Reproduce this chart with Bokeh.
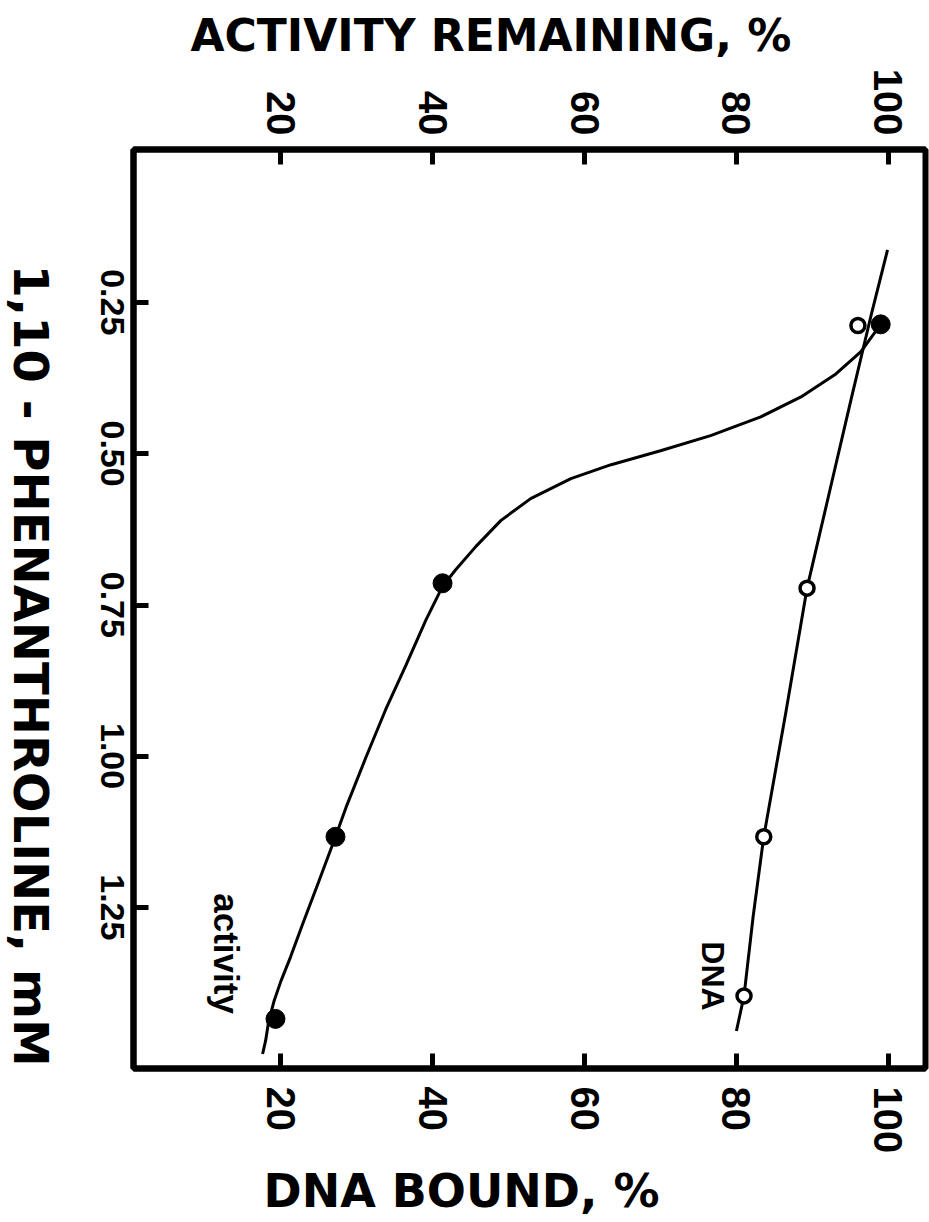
from math import pi
from bokeh.plotting import figure
from bokeh.layouts import row
from bokeh.models import Range1d, LinearAxis, FixedTicker, Label, Title
from bokeh.embed import file_html
from bokeh.resources import INLINE

# ---- data ----
conc_ticks = [0.25, 0.50, 0.75, 1.00, 1.25]
conc_tick_labels = ["0.25", "0.50", "0.75", "1.00", "1.25"]
pct_ticks = [20, 40, 60, 80, 100]

# measured points: phenanthroline (mM) vs percent
act_conc = [0.286, 0.714, 1.133, 1.434]
act_pct = [99.0, 41.3, 27.2, 19.3]
dna_conc = [0.288, 0.722, 1.133, 1.396]
dna_pct = [96.0, 89.3, 83.6, 81.0]

# hand-drawn curves
act_curve_pct = [99.0, 96.4, 93.1, 88.5, 83.2, 76.6, 70.0, 63.5, 58.2, 52.9, 49.0,
                 45.7, 43.0, 41.3, 39.1, 36.5, 33.8, 31.2, 28.6, 27.2, 25.0, 23.0,
                 21.3, 20.0, 19.1, 18.4, 18.0, 17.6]
act_curve_conc = [0.286, 0.331, 0.368, 0.406, 0.439, 0.470, 0.495, 0.518, 0.541, 0.574,
                  0.610, 0.653, 0.692, 0.719, 0.775, 0.849, 0.923, 1.002, 1.084, 1.133,
                  1.207, 1.273, 1.331, 1.372, 1.405, 1.438, 1.470, 1.492]
dna_curve_pct = [99.9, 97.7, 95.1, 92.2, 89.3, 86.5, 83.6, 82.2, 81.0, 80.0]
dna_curve_conc = [0.163, 0.273, 0.410, 0.566, 0.722, 0.928, 1.133, 1.265, 1.396, 1.454]

top_title = "ACTIVITY  REMAINING, %"
bottom_title = "DNA  BOUND, %"
left_title = "1,10 - PHENANTHROLINE, mM"

FONT = "Liberation Sans"
TFONT = "DejaVu Sans"

TITLE_W = 60  # width of the strip holding the vertical title
H = 1222
TOP, BOTTOM = 149, 1073           # frame edges in page pixels
Y0, Y1 = 1.516, -0.003           # concentration range (bottom, top)
YLAB_SHIFT_PX = 33                # centres the rotated left tick labels on their ticks
ylab_shift = YLAB_SHIFT_PX * (Y0 - Y1) / (BOTTOM - TOP)

# ---- strip with the left (vertical) title; its frame lines up with the main frame ----
side = figure(width=TITLE_W, height=H, x_range=Range1d(0, TITLE_W),
              y_range=Range1d(BOTTOM, TOP),
              x_axis_type=None, y_axis_type=None, output_backend="svg",
              toolbar_location=None, min_border=0)
side.min_border_top = TOP
side.min_border_bottom = H - BOTTOM
side.outline_line_color = None
side.grid.visible = False
side.background_fill_color = "white"
side.border_fill_color = "white"
side.add_layout(Label(x=TITLE_W / 2, y=668, text=left_title, angle=-pi / 2,
                      text_font=TFONT, text_font_style="bold", text_font_size="48px",
                      text_align="center", text_baseline="middle", text_color="black"))

# ---- main plot ----
p = figure(width=929 - TITLE_W, height=H,
           x_range=Range1d(0.6, 104.9), y_range=Range1d(Y0, Y1),
           output_backend="svg", toolbar_location=None)
p.min_border_left = 133 - TITLE_W
p.min_border_right = 4
p.min_border_top = TOP
p.min_border_bottom = H - BOTTOM
p.background_fill_color = "white"
p.border_fill_color = "white"
p.grid.visible = False
p.outline_line_color = "black"
p.outline_line_width = 6

top_axis = LinearAxis()
p.add_layout(top_axis, "above")

for ax in [p.xaxis[0], top_axis]:
    ax.ticker = FixedTicker(ticks=pct_ticks)

for ax in list(p.xaxis) + list(p.yaxis):
    ax.axis_line_color = "black"
    ax.axis_line_width = 6
    ax.major_tick_in = 15
    ax.major_tick_out = 0
    ax.major_tick_line_width = 5
    ax.major_tick_line_color = "black"
    ax.minor_tick_line_color = None
    ax.major_label_orientation = -pi / 2
    ax.major_label_text_font = FONT
    ax.major_label_text_font_style = "bold"
    ax.major_label_text_color = "black"

for ax in p.xaxis:
    ax.major_label_text_font_size = "40px"
    ax.major_label_standoff = 14

# left axis: ticks only (its own labels are not painted)
yax = p.yaxis[0]
yax.ticker = FixedTicker(ticks=conc_ticks)
yax.major_label_text_color = None
yax.major_label_text_font_size = "10px"
yax.major_label_standoff = 0

# left axis labels, on a range shifted so the rotated labels sit centred on the ticks
p.extra_y_ranges = {"ylab": Range1d(Y0 - ylab_shift, Y1 - ylab_shift)}
ylab = LinearAxis(y_range_name="ylab")
ylab.ticker = FixedTicker(ticks=conc_ticks)
ylab.major_label_overrides = {t: s for t, s in zip(conc_ticks, conc_tick_labels)}
ylab.axis_line_color = None
ylab.major_tick_line_color = None
ylab.minor_tick_line_color = None
ylab.major_tick_in = 0
ylab.major_tick_out = 0
ylab.major_label_orientation = -pi / 2
ylab.major_label_text_font = FONT
ylab.major_label_text_font_style = "bold"
ylab.major_label_text_font_size = "34px"
ylab.major_label_text_color = "black"
ylab.major_label_standoff = 21
p.add_layout(ylab, "left")

# top title
p.title.text = top_title
p.title.align = "left"
p.title.offset = 57
p.title.text_font = TFONT
p.title.text_font_style = "bold"
p.title.text_font_size = "44px"
p.title.text_color = "black"

# bottom title
p.add_layout(Title(text=bottom_title, align="left", offset=130, text_font=TFONT,
                   text_font_style="bold", text_font_size="46px", text_color="black"),
             "below")

# curves
p.line(act_curve_pct, act_curve_conc, line_color="black", line_width=3)
p.line(dna_curve_pct, dna_curve_conc, line_color="black", line_width=3)

# points
p.scatter(act_pct, act_conc, size=19, marker="circle", fill_color="black", line_color="black")
p.scatter(dna_pct, dna_conc, size=14, marker="circle", fill_color="white",
          line_color="black", line_width=3.5)

# in-plot labels
p.add_layout(Label(x=12.8, y=1.326, text="activity", angle=-pi / 2,
                   text_font=FONT, text_font_style="bold", text_font_size="35px",
                   text_align="center", text_baseline="middle", text_color="black"))
p.add_layout(Label(x=76.9, y=1.363, text="DNA", angle=-pi / 2,
                   text_font=FONT, text_font_style="bold", text_font_size="32px",
                   text_align="center", text_baseline="middle", text_color="black"))

layout = row(side, p, spacing=0)
open("out.html", "w").write(file_html(layout, INLINE))
